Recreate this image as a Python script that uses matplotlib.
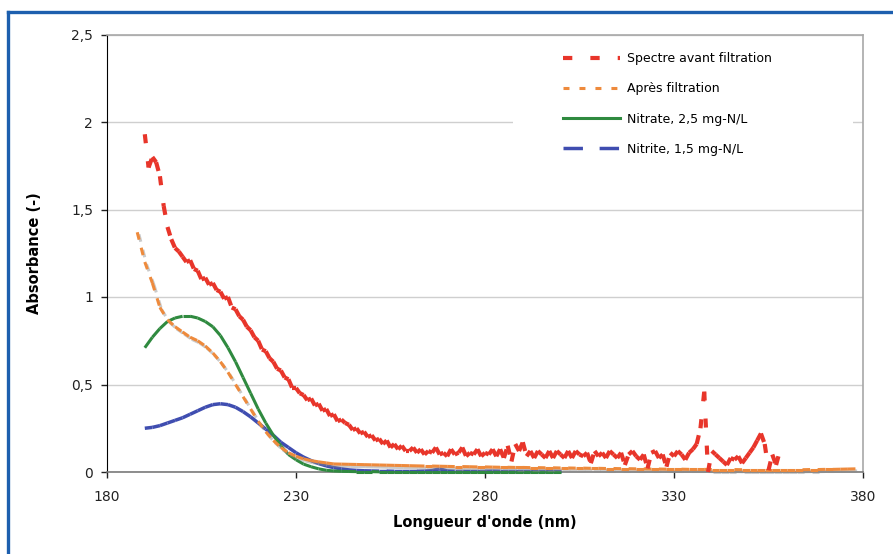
"""
Absorbance spectra before / after filtration, with nitrate and nitrite references.
"""

import matplotlib
matplotlib.use("Agg")
import matplotlib.pyplot as plt
import matplotlib.patheffects as pe
import numpy as np
from matplotlib.collections import LineCollection
from matplotlib.lines import Line2D
from matplotlib.patches import Rectangle

# --- data --------------------------------------------------------------------
wl_raw = np.arange(190, 359, 1)
abs_raw = [
    1.93, 1.74, 1.80, 1.77, 1.69, 1.52, 1.40, 1.33, 1.28, 1.26,
    1.23, 1.20, 1.21, 1.16, 1.15, 1.10, 1.11, 1.07, 1.08, 1.04,
    1.03, 0.99, 1.00, 0.94, 0.93, 0.89, 0.87, 0.83, 0.81, 0.77,
    0.75, 0.70, 0.69, 0.65, 0.63, 0.59, 0.58, 0.54, 0.53, 0.48,
    0.48, 0.45, 0.44, 0.41, 0.42, 0.38, 0.39, 0.35, 0.36, 0.32,
    0.33, 0.29, 0.30, 0.28, 0.27, 0.24, 0.25, 0.22, 0.23, 0.20,
    0.21, 0.18, 0.19, 0.16, 0.18, 0.14, 0.16, 0.13, 0.15, 0.12,
    0.12, 0.14, 0.11, 0.13, 0.10, 0.12, 0.11, 0.14, 0.10, 0.11,
    0.09, 0.13, 0.10, 0.11, 0.14, 0.09, 0.11, 0.10, 0.13, 0.09,
    0.11, 0.10, 0.13, 0.09, 0.13, 0.08, 0.15, 0.06, 0.16, 0.12,
    0.17, 0.09, 0.12, 0.08, 0.12, 0.10, 0.08, 0.12, 0.08, 0.12,
    0.10, 0.08, 0.12, 0.08, 0.12, 0.10, 0.09, 0.11, 0.05, 0.12,
    0.09, 0.11, 0.08, 0.12, 0.10, 0.08, 0.11, 0.04, 0.10, 0.12,
    0.09, 0.07, 0.10, 0.02, 0.11, 0.12, 0.08, 0.10, 0.03, 0.11,
    0.09, 0.12, 0.10, 0.07, 0.11, 0.13, 0.16, 0.25, 0.46, 0.00,
    0.12, 0.10, 0.08, 0.06, 0.04, 0.08, 0.07, 0.09, 0.05, 0.08,
    0.11, 0.14, 0.18, 0.22, 0.16, 0.01, 0.10, 0.04, 0.12,
]

wl_filt = np.arange(188, 379, 2)
abs_filt = [
    1.37, 1.20, 1.08, 0.94, 0.87, 0.83, 0.80, 0.77, 0.75, 0.72,
    0.68, 0.63, 0.57, 0.50, 0.43, 0.36, 0.29, 0.23, 0.18, 0.14,
    0.11, 0.09, 0.075, 0.065, 0.058, 0.052,
    0.046, 0.045, 0.044, 0.043, 0.042, 0.041, 0.040, 0.039, 0.038, 0.037,
    0.036, 0.035, 0.034, 0.034, 0.033, 0.032, 0.031, 0.031, 0.030, 0.029,
    0.029, 0.028, 0.027, 0.027, 0.026, 0.026, 0.025, 0.025, 0.024, 0.024,
    0.023, 0.023, 0.022, 0.022, 0.021, 0.021, 0.020, 0.020, 0.019, 0.019,
    0.018, 0.018, 0.017, 0.017, 0.016, 0.016, 0.016, 0.015, 0.015, 0.015,
    0.014, 0.014, 0.014, 0.014, 0.013, 0.013, 0.013, 0.013, 0.013, 0.013,
    0.013, 0.013, 0.013, 0.014, 0.014, 0.015, 0.015, 0.016, 0.017, 0.018,
]

wl_ref = np.arange(190, 301, 2)
abs_nitrate = [
    0.71, 0.77, 0.82, 0.86, 0.88, 0.89, 0.89, 0.88, 0.86, 0.83,
    0.78, 0.71, 0.63, 0.54, 0.45, 0.36, 0.28, 0.21, 0.15, 0.10,
    0.07, 0.045, 0.03, 0.018, 0.010, 0.006, 0.004, 0.003,
    0.002, 0.002, 0.002, 0.001, 0.001, 0.001, 0.001, 0.001, 0.001, 0.001,
    0.001, 0.001, 0.001, 0.001, 0.001, 0.001, 0.001, 0.001, 0.001, 0.001,
    0.001, 0.001, 0.001, 0.001, 0.001, 0.001, 0.001, 0.001,
]
abs_nitrite = [
    0.25, 0.255, 0.265, 0.28, 0.295, 0.31, 0.33, 0.35, 0.37, 0.385,
    0.39, 0.385, 0.37, 0.345, 0.315, 0.28, 0.245, 0.21, 0.17, 0.14,
    0.11, 0.085, 0.065, 0.048, 0.035, 0.025, 0.018, 0.012,
    0.009, 0.007, 0.006, 0.005, 0.005, 0.004, 0.004, 0.004, 0.004, 0.005,
    0.008, 0.018, 0.006, 0.004, 0.004, 0.004, 0.004, 0.004, 0.005, 0.004,
    0.004, 0.004, 0.004, 0.004, 0.004, 0.004, 0.004, 0.004,
]

labels = [
    "Spectre avant filtration",
    "Après filtration",
    "Nitrate, 2,5 mg-N/L",
    "Nitrite, 1,5 mg-N/L",
]
xticks = [180, 230, 280, 330, 380]
yticks = [0, 0.5, 1, 1.5, 2, 2.5]
ytick_labels = ["0", "0,5", "1", "1,5", "2", "2,5"]

RED = "#e8352a"
ORANGE = "#ee8a3c"
GREEN = "#2f8a3f"
BLUE = "#3f4db0"

plt.rcParams["font.family"] = ["DejaVu Sans"]
plt.rcParams["lines.scale_dashes"] = False


def segments(x, y):
    """Excel restarts the dash pattern on every segment: one path per segment."""
    pts = np.column_stack([x, y])
    return np.stack([pts[:-1], pts[1:]], axis=1)


fig = plt.figure(figsize=(8.93, 5.54), dpi=100)
ax = fig.add_axes([107 / 893, 82 / 554, 756 / 893, 437.5 / 554])

ax.grid(True, axis="y", color="#cfcfcf", linewidth=1.0, zorder=0)
ax.set_axisbelow(True)

# white patch behind the legend hides the 2.0 gridline, like the original
ax.add_patch(Rectangle((0.537, 0.70), 0.45, 0.29, transform=ax.transAxes,
                       facecolor="white", edgecolor="none", zorder=1))

series = [
    (wl_raw, abs_raw, RED, 3.0, (0, (6.5, 13))),
    (wl_filt, abs_filt, ORANGE, 2.2, (0, (5.5, 6.0))),
    (wl_ref, abs_nitrate, GREEN, 2.2, "solid"),
    (wl_ref, abs_nitrite, BLUE, 2.5, (0, (14, 12))),
]
for i, (x, y, color, lw, ls) in enumerate(series):
    lc = LineCollection(segments(x, y), colors=color, linewidths=lw,
                        linestyles=ls, capstyle="butt", zorder=3 + (3 - i) * 0.1)
    if color == ORANGE:
        lc.set_path_effects([pe.SimpleLineShadow(offset=(1.2, -1.5), shadow_color="#8a8a8a",
                                                 alpha=0.45), pe.Normal()])
    lc.set_clip_on(False)
    ax.add_collection(lc)

ax.set_xlim(180, 380)
ax.set_ylim(0, 2.5)
ax.set_xticks(xticks)
ax.set_yticks(yticks)
ax.set_yticklabels(ytick_labels)

for side in ("top", "right"):
    ax.spines[side].set_color("#a8a8a8")
    ax.spines[side].set_linewidth(1.2)
ax.spines["left"].set_color("black")
ax.spines["bottom"].set_color("#7a7a7a")
ax.spines["bottom"].set_linewidth(1.2)

ax.tick_params(axis="y", direction="out", length=4, width=1, pad=6,
               labelsize=10, colors="#222222")
ax.tick_params(axis="x", direction="out", length=4, width=1, pad=9,
               labelsize=10, colors="#222222")

ax.set_xlabel("Longueur d'onde (nm)", fontsize=10.5, fontweight="bold", labelpad=8)
ax.set_ylabel("Absorbance (-)", fontsize=10.5, fontweight="bold", labelpad=21)

handles = [
    Line2D([], [], color=RED, lw=3.0, ls=(0, (6.7, 13))),
    Line2D([], [], color=ORANGE, lw=2.2, ls=(0, (4.3, 7.2))),
    Line2D([], [], color=GREEN, lw=2.2),
    Line2D([], [], color=BLUE, lw=2.5, ls=(0, (14, 12))),
]
ax.legend(handles, labels, loc="upper left", bbox_to_anchor=(0.603, 0.96),
          frameon=False, fontsize=9, handlelength=4.6, handletextpad=0.55,
          labelspacing=1.38, borderpad=0, borderaxespad=0)

# blue frame of the original figure
frame_kw = dict(transform=fig.transFigure, color="#1d5fae", linewidth=2.4)
fig.add_artist(Line2D([8 / 893, 8 / 893], [0, 1 - 12 / 554], **frame_kw))
fig.add_artist(Line2D([8 / 893, 1], [1 - 12 / 554, 1 - 12 / 554], **frame_kw))

fig.savefig("out.png", dpi=100)
